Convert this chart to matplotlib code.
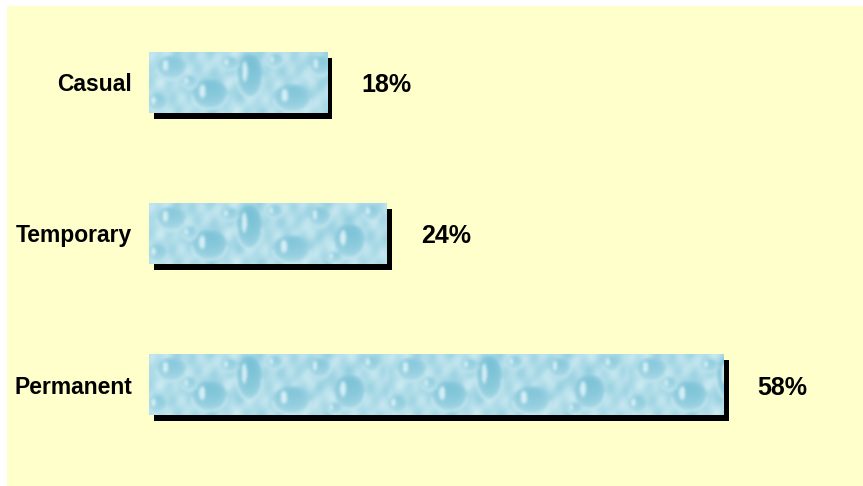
import numpy as np
import matplotlib
matplotlib.use("Agg")
import matplotlib.pyplot as plt
from matplotlib.patches import Rectangle
from matplotlib.transforms import ScaledTranslation

# ---- data ----
categories = ["Permanent", "Temporary", "Casual"]
shares = [58, 24, 18]
value_labels = [f"{v}%" for v in shares]

plt.rcParams["font.family"] = ["Liberation Sans", "DejaVu Sans"]

W_PX, H_PX, DPI = 863, 486, 100
fig = plt.figure(figsize=(W_PX / DPI, H_PX / DPI), dpi=DPI, facecolor="white")

# pale yellow chart area
fig.add_artist(Rectangle((7 / W_PX, 0), 1, 480 / H_PX, transform=fig.transFigure,
                         facecolor="#FFFFCC", edgecolor="none", zorder=0))

left_px = 149
ax = fig.add_axes([left_px / W_PX, 0, (W_PX - left_px) / W_PX, 1])
ax.set_facecolor("none")
px_per_unit = 9.91
ax.set_xlim(0, (W_PX - left_px) / px_per_unit)
ax.set_ylim(-0.672, 2.546)
for s in ax.spines.values():
    s.set_visible(False)
ax.set_xticks([])

ypos = np.arange(len(categories))
bar_h = 0.404

ax.set_yticks(ypos)
ax.set_yticklabels(categories, fontsize=16.5, fontweight="bold")
ax.tick_params(axis="y", length=0, pad=12.2)


# ---- water-droplet texture ----
def smooth(t, taps):
    k = np.array(taps, float)
    k /= k.sum()
    p = len(k) // 2
    t = np.apply_along_axis(lambda r: np.convolve(np.pad(r, p, mode="wrap"), k, "valid"), 1, t)
    t = np.apply_along_axis(lambda c: np.convolve(np.pad(c, p, mode="edge"), k, "valid"), 0, t)
    return t


def droplet_tile(h, w):
    yy, xx = np.mgrid[0:h, 0:w].astype(float)
    t = (0.62 + 0.10 * np.sin(xx / 6.0) * np.cos(yy / 4.5)
         + 0.08 * np.sin((xx + 2 * yy) / 10.0)
         + 0.07 * np.cos((3 * xx - yy) / 8.0)
         + 0.05 * np.sin(xx / 2.7 + yy / 3.1))
    # (cx, cy, rx, ry, depth)
    drops = [(22, 16, 15, 12, 0.35), (60, 42, 18, 15, 0.25), (100, 24, 13, 22, 0.20),
             (142, 46, 19, 14, 0.30), (170, 14, 11, 10, 0.35), (8, 50, 10, 9, 0.40),
             (80, 12, 9, 7, 0.42), (125, 9, 8, 7, 0.42), (40, 30, 8, 7, 0.45),
             (200, 38, 16, 17, 0.25), (222, 10, 9, 8, 0.40), (185, 54, 8, 6, 0.45)]
    for cx, cy, rx, ry, depth in drops:
        for ox in (-w, 0, w):
            d = ((xx - cx - ox) / rx) ** 2 + ((yy - cy) / ry) ** 2
            inside = d < 1
            shade = depth + 0.18 * np.clip((yy - cy) / ry, -1, 1) + 0.25 * d ** 2
            t = np.where(inside, shade, t)
            rim = (d >= 0.85) & (d < 1.1)
            t = np.where(rim & (yy > cy), 0.82, t)
            hd = ((xx - (cx + ox - 0.4 * rx)) / (0.12 * rx + 1)) ** 2 + \
                 ((yy - (cy - 0.2 * ry)) / (0.45 * ry)) ** 2
            t = np.where(hd < 1, 0.95, t)
    t = np.clip(t, 0, 1)
    t = smooth(t, [1, 2, 3, 2, 1])
    t = smooth(t, [1, 2, 1])
    dark = np.array([108, 186, 210]) / 255
    light = np.array([218, 242, 247]) / 255
    return dark + (light - dark) * t[..., None]


fig.canvas.draw()
bar_h_px = int(round(bar_h * 151))
tile = droplet_tile(bar_h_px, 240)

shadow_tf = ax.transData + ScaledTranslation(5 / DPI, -6 / DPI, fig.dpi_scale_trans)

for y, v, lab in zip(ypos, shares, value_labels):
    ax.barh(y, v, height=bar_h, color="black", transform=shadow_tf, zorder=1)
    bar = ax.barh(y, v, height=bar_h, color="#B4E4EE", zorder=2)[0]
    w_px = int(round(ax.transData.transform((v, 0))[0] - ax.transData.transform((0, 0))[0]))
    reps = w_px // tile.shape[1] + 1
    img = np.tile(tile, (1, reps, 1))[:, :w_px]
    im = ax.imshow(img, extent=(0, v, y - bar_h / 2, y + bar_h / 2),
                   aspect="auto", interpolation="bilinear", zorder=3)
    im.set_clip_path(bar)
    ax.annotate(lab, xy=(v, y), xytext=(34, -3), textcoords="offset pixels",
                ha="left", va="center", fontsize=18, fontweight="bold", zorder=4)

ax.set_xlim(0, (W_PX - left_px) / px_per_unit)
ax.set_ylim(-0.672, 2.546)

fig.savefig("out.png", dpi=DPI, facecolor="white")
